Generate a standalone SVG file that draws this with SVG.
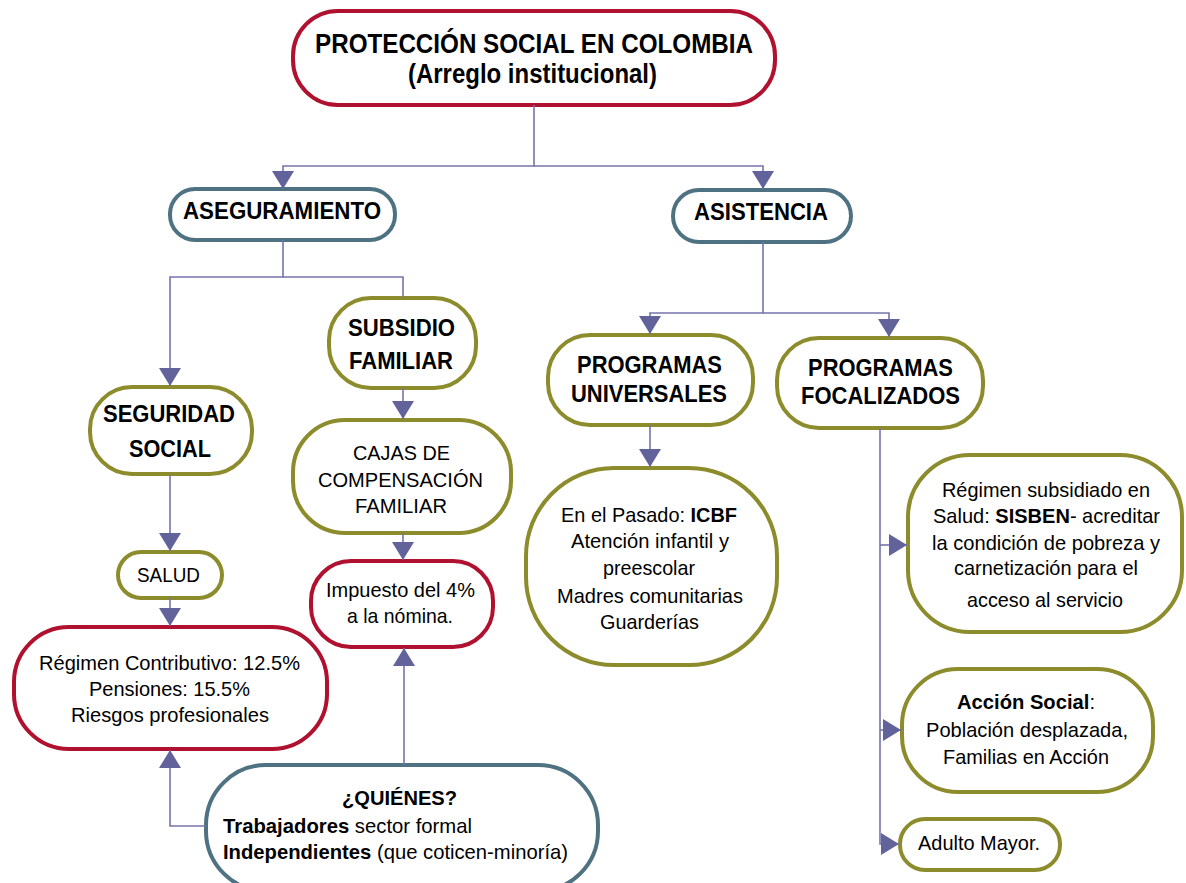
<svg xmlns="http://www.w3.org/2000/svg" width="1186" height="883" viewBox="0 0 1186 883">
<defs>
<style>
.n{fill:#fff;stroke-width:4}
.red{stroke:#b0112f}
.olv{stroke:#8c8c2c}
.tea{stroke:#4f7282}
text{font-family:"Liberation Sans",Arial,sans-serif;fill:#000}
.h{font-weight:bold;font-size:24px}
.t{font-weight:bold;font-size:27px}
.b{font-size:21px}
.bb{font-size:21px;font-weight:bold}
.k{font-weight:bold}
.c{fill:none;stroke:#7474ad;stroke-width:1.6}
</style>
<marker id="ar" viewBox="0 0 18 22" refX="18" refY="11" markerWidth="18" markerHeight="22" markerUnits="userSpaceOnUse" orient="auto">
<path d="M0,0 L18,11 L0,22 Z" fill="#63639b"/>
</marker>
</defs>
<rect width="1186" height="883" fill="#fff"/>

<g id="n-title"><rect class="n red" x="293" y="11" width="482" height="94" rx="45"/>
<text class="t" x="315" y="53" textLength="438" lengthAdjust="spacingAndGlyphs">PROTECCIÓN SOCIAL EN COLOMBIA</text>
<text class="t" x="408" y="83" textLength="249" lengthAdjust="spacingAndGlyphs">(Arreglo institucional)</text></g>

<g id="n-aseg"><rect class="n tea" x="170" y="189" width="225" height="51" rx="25"/>
<text class="h" x="183" y="219" textLength="198" lengthAdjust="spacingAndGlyphs">ASEGURAMIENTO</text></g>

<g id="n-asis"><rect class="n tea" x="673" y="190" width="178" height="52" rx="26"/>
<text class="h" x="694" y="220" textLength="134" lengthAdjust="spacingAndGlyphs">ASISTENCIA</text></g>

<g id="n-subsidio"><rect class="n olv" x="329" y="298" width="147" height="90" rx="42"/>
<text class="h" x="348" y="336" textLength="107" lengthAdjust="spacingAndGlyphs">SUBSIDIO</text>
<text class="h" x="349" y="369" textLength="104" lengthAdjust="spacingAndGlyphs">FAMILIAR</text></g>

<g id="n-seguridad"><rect class="n olv" x="90" y="387" width="162" height="87" rx="42"/>
<text class="h" x="103" y="422" textLength="132" lengthAdjust="spacingAndGlyphs">SEGURIDAD</text>
<text class="h" x="129" y="457" textLength="82" lengthAdjust="spacingAndGlyphs">SOCIAL</text></g>

<g id="n-salud"><rect class="n olv" x="118" y="552" width="104" height="46" rx="23"/>
<text class="b" x="137" y="582" textLength="63" lengthAdjust="spacingAndGlyphs">SALUD</text></g>

<g id="n-contributivo"><rect class="n red" x="14" y="627" width="313" height="122" rx="55"/>
<text class="b" x="39" y="670" textLength="261" lengthAdjust="spacingAndGlyphs">Régimen Contributivo: 12.5%</text>
<text class="b" x="89" y="696" textLength="161" lengthAdjust="spacingAndGlyphs">Pensiones: 15.5%</text>
<text class="b" x="71" y="722" textLength="198" lengthAdjust="spacingAndGlyphs">Riesgos profesionales</text></g>

<g id="n-cajas"><rect class="n olv" x="293" y="420" width="218" height="113" rx="52"/>
<text class="b" x="353" y="460" textLength="97" lengthAdjust="spacingAndGlyphs">CAJAS DE</text>
<text class="b" x="318" y="487" textLength="165" lengthAdjust="spacingAndGlyphs">COMPENSACIÓN</text>
<text class="b" x="355" y="513" textLength="92" lengthAdjust="spacingAndGlyphs">FAMILIAR</text></g>

<g id="n-impuesto"><rect class="n red" x="311" y="561" width="182" height="86" rx="40"/>
<text class="b" x="326" y="597" textLength="149" lengthAdjust="spacingAndGlyphs">Impuesto del 4%</text>
<text class="b" x="347" y="623" textLength="106" lengthAdjust="spacingAndGlyphs">a la nómina.</text></g>

<g id="n-quienes"><rect class="n tea" x="206" y="765" width="392" height="126" rx="60"/>
<text class="bb" x="342" y="805" textLength="115" lengthAdjust="spacingAndGlyphs">¿QUIÉNES?</text>
<text class="b" x="223" y="833" textLength="249" lengthAdjust="spacingAndGlyphs"><tspan class="k">Trabajadores</tspan> sector formal</text>
<text class="b" x="223" y="859" textLength="345" lengthAdjust="spacingAndGlyphs"><tspan class="k">Independientes</tspan> (que coticen-minoría)</text></g>

<g id="n-universales"><rect class="n olv" x="548" y="335" width="205" height="90" rx="42"/>
<text class="h" x="577" y="373" textLength="145" lengthAdjust="spacingAndGlyphs">PROGRAMAS</text>
<text class="h" x="571" y="402" textLength="156" lengthAdjust="spacingAndGlyphs">UNIVERSALES</text></g>

<g id="n-focalizados"><rect class="n olv" x="777" y="338" width="206" height="90" rx="42"/>
<text class="h" x="808" y="376" textLength="145" lengthAdjust="spacingAndGlyphs">PROGRAMAS</text>
<text class="h" x="801" y="404" textLength="159" lengthAdjust="spacingAndGlyphs">FOCALIZADOS</text></g>

<g id="n-pasado"><rect class="n olv" x="526" y="468" width="251" height="197" rx="88"/>
<text class="b" x="561" y="522" textLength="176" lengthAdjust="spacingAndGlyphs">En el Pasado: <tspan class="k">ICBF</tspan></text>
<text class="b" x="571" y="548" textLength="158" lengthAdjust="spacingAndGlyphs">Atención infantil y</text>
<text class="b" x="603" y="575" textLength="92" lengthAdjust="spacingAndGlyphs">preescolar</text>
<text class="b" x="557" y="603" textLength="186" lengthAdjust="spacingAndGlyphs">Madres comunitarias</text>
<text class="b" x="600" y="629" textLength="99" lengthAdjust="spacingAndGlyphs">Guarderías</text></g>

<g id="n-subsidiado"><rect class="n olv" x="908" y="455" width="274" height="177" rx="62"/>
<text class="b" x="942" y="497" textLength="208" lengthAdjust="spacingAndGlyphs">Régimen subsidiado en</text>
<text class="b" x="933" y="523" textLength="227" lengthAdjust="spacingAndGlyphs">Salud: <tspan class="k">SISBEN</tspan>- acreditar</text>
<text class="b" x="932" y="550" textLength="228" lengthAdjust="spacingAndGlyphs">la condición de pobreza y</text>
<text class="b" x="954" y="575" textLength="184" lengthAdjust="spacingAndGlyphs">carnetización para el</text>
<text class="b" x="967" y="607" textLength="156" lengthAdjust="spacingAndGlyphs">acceso al servicio</text></g>

<g id="n-accion"><rect class="n olv" x="902" y="669" width="251" height="123" rx="56"/>
<text class="b" x="957" y="709" textLength="138" lengthAdjust="spacingAndGlyphs"><tspan class="k">Acción Social</tspan>:</text>
<text class="b" x="926" y="737" textLength="202" lengthAdjust="spacingAndGlyphs">Población desplazada,</text>
<text class="b" x="943" y="764" textLength="166" lengthAdjust="spacingAndGlyphs">Familias en Acción</text></g>

<g id="n-adulto"><rect class="n olv" x="900" y="819" width="160" height="51" rx="25"/>
<text class="b" x="918" y="850" textLength="122" lengthAdjust="spacingAndGlyphs">Adulto Mayor.</text></g>

<g id="connectors">
<path class="c" d="M534,105 V166 H283 V189" marker-end="url(#ar)"/>
<path class="c" d="M534,166 H763 V189" marker-end="url(#ar)"/>
<path class="c" d="M283,240 V277 H170 V386" marker-end="url(#ar)"/>
<path class="c" d="M283,277 H403 V297"/>
<path class="c" d="M170,475 V551" marker-end="url(#ar)"/>
<path class="c" d="M170,598 V626" marker-end="url(#ar)"/>
<path class="c" d="M206,826 H170 V750" marker-end="url(#ar)"/>
<path class="c" d="M403,388 V419" marker-end="url(#ar)"/>
<path class="c" d="M403,533 V560" marker-end="url(#ar)"/>
<path class="c" d="M404,765 V648" marker-end="url(#ar)"/>
<path class="c" d="M763,242 V313 H650 V334" marker-end="url(#ar)"/>
<path class="c" d="M763,313 H889 V337" marker-end="url(#ar)"/>
<path class="c" d="M650,425 V467" marker-end="url(#ar)"/>
<path class="c" d="M880,428 V844 H899" marker-end="url(#ar)"/>
<path class="c" d="M880,545 H907" marker-end="url(#ar)"/>
<path class="c" d="M880,730 H901" marker-end="url(#ar)"/>
</g>
</svg>
